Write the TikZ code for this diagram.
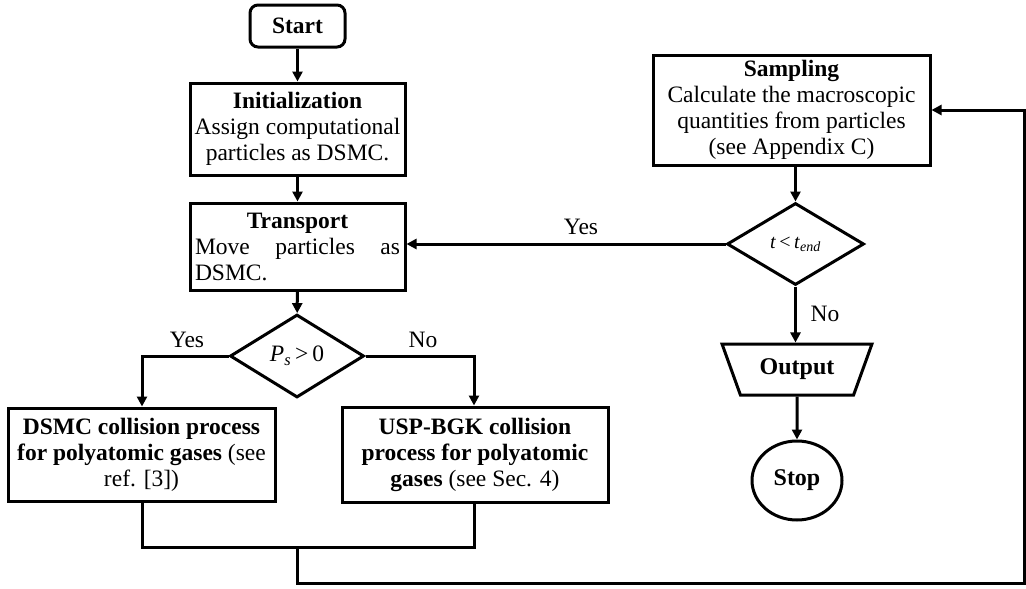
\documentclass[tikz,border=0pt]{standalone}
\usepackage{fontspec}
\setmainfont{Liberation Serif}
\usetikzlibrary{shapes.geometric,arrows.meta}
\begin{document}
\begin{tikzpicture}[x=1pt,y=-1pt,
  font=\fontsize{23.5}{26}\selectfont,
  every node/.style={line width=3pt,inner sep=0pt},
  boxnode/.style={draw,rectangle,align=center},
  decnode/.style={draw,diamond},
  conn/.style={line width=3pt},
  arr/.style={conn,-{Triangle[length=10pt,width=10pt]}},
  lbl/.style={font=\fontsize{23.5}{26}\selectfont}]
\useasboundingbox (0,0) rectangle (1026,589);
\fill[white] (0,0) rectangle (1026,589);

\node[draw,rounded corners=8pt,minimum width=95pt,minimum height=42pt,font=\fontsize{23.5}{26}\selectfont\bfseries] (start) at (297.5,26) {Start};
\node[boxnode,minimum width=215pt,minimum height=92pt] (init) at (297.5,129) {\textbf{Initialization}\\Assign computational\\particles as DSMC.};
\node[boxnode,minimum width=215pt,minimum height=87pt] (trans) at (297.5,246.5) {\textbf{Transport}\\\makebox[205pt][s]{Move particles as}\\\makebox[205pt][l]{DSMC.}};
\node[decnode,minimum width=134pt,minimum height=83pt] (pdec) at (297,356) {\textit{P}\textsubscript{\textit{s}}\,>\,0};
\node[boxnode,minimum width=267pt,minimum height=93pt] (dsmc) at (141.5,454.5) {\textbf{DSMC collision process}\\\textbf{for polyatomic gases} (see\\ref. [3])};
\node[boxnode,minimum width=266pt,minimum height=95pt] (usp) at (475,454.5) {\textbf{USP-BGK collision}\\\textbf{process for polyatomic}\\\textbf{gases} (see Sec. 4)};
\node[boxnode,minimum width=277pt,minimum height=110pt] (samp) at (791.5,110) {\textbf{Sampling}\\Calculate the macroscopic\\quantities from particles\\(see Appendix C)};
\node[decnode,minimum width=137pt,minimum height=82pt,font=\fontsize{20}{22}\selectfont] (tdec) at (795.5,244) {\textit{t}\,<\,\textit{t}\textsubscript{\textit{end}}};
\node[draw,trapezium,shape border rotate=180,trapezium stretches=true,trapezium left angle=60,trapezium right angle=60,minimum width=150pt,minimum height=51pt,font=\fontsize{24}{26}\selectfont\bfseries] (out) at (797,369.5) {Output};
\node[draw,ellipse,minimum width=90pt,minimum height=79pt,font=\fontsize{24}{26}\selectfont\bfseries] (stop) at (797,480.5) {Stop};

\coordinate (jl) at (142,547);
\coordinate (jr) at (474,547);
\coordinate (jm) at (297,547);
\coordinate (lb) at (297,583);
\coordinate (rb) at (1024.5,583);

\draw[arr] (start) -- (init);
\draw[arr] (init) -- (trans);
\draw[arr] (trans) -- (pdec);
\draw[arr] (pdec.west) -| (jl |- dsmc.north);
\draw[arr] (pdec.east) -| (jr |- usp.north);
\draw[conn] (jl |- dsmc.south) -- (jl) -- (jr) -- (jr |- usp.south);
\draw[arr] (jm) -- (lb) -- (rb) |- (samp.east);
\draw[arr] (samp.south -| tdec.north) -- (tdec.north);
\draw[arr] (tdec.west) -- (trans.east |- tdec.west);
\draw[arr] (tdec.south) -- (out.north -| tdec.south);
\draw[arr] (out.south) -- (stop.north);

\node[lbl] (yes1) at (187,340) {Yes};
\node[lbl] (no1) at (423,340) {No};
\node[lbl] (yes2) at (581,227) {Yes};
\node[lbl] (no2) at (825,314) {No};
\end{tikzpicture}
\end{document}
